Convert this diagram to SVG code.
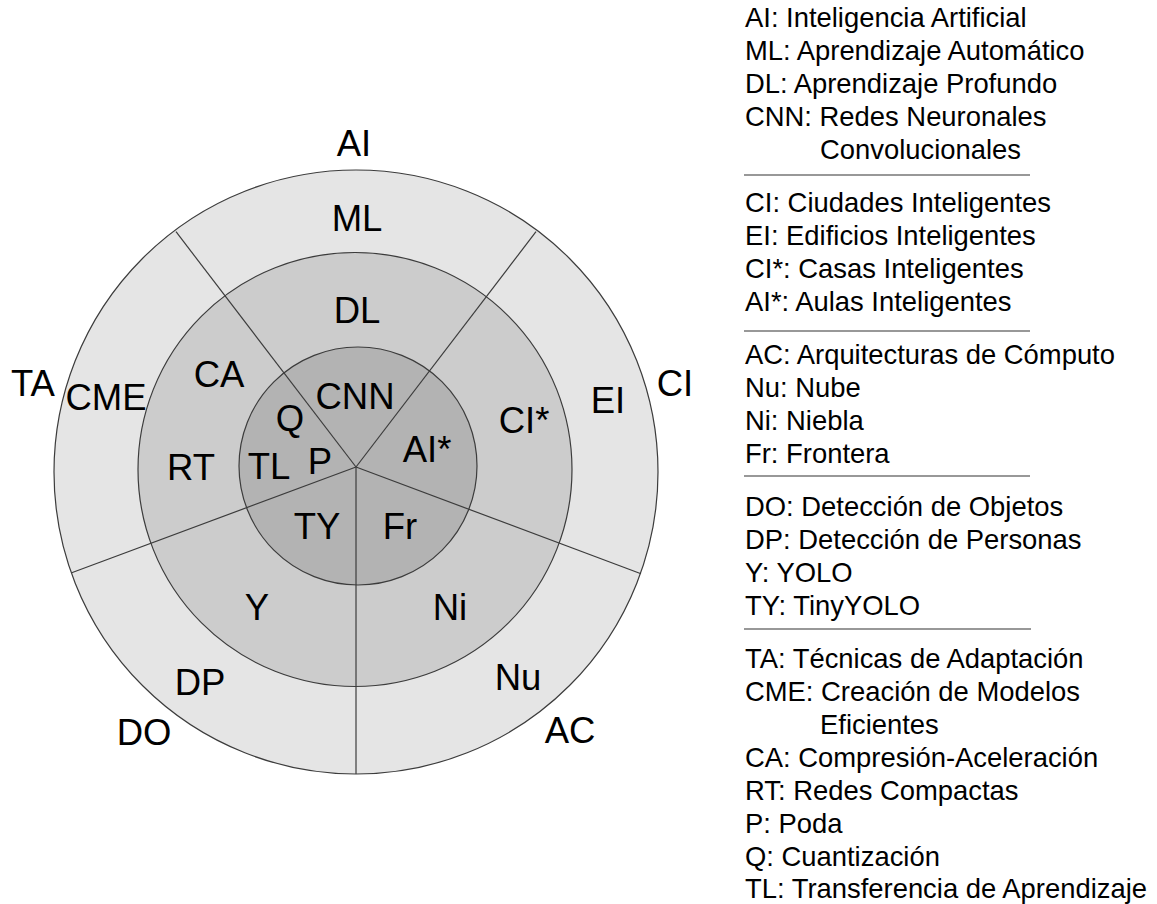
<svg xmlns="http://www.w3.org/2000/svg" width="1157" height="904" viewBox="0 0 1157 904">
  <style>
    .ring { stroke: #3c3c3c; stroke-width: 1.2; }
    .outer { fill: #e5e5e5; }
    .middle { fill: #cccccc; }
    .inner { fill: #b3b3b3; }
    .spoke { stroke: #3c3c3c; stroke-width: 1.2; fill: none; }
    .lbl { font-family: "Liberation Sans", Arial, sans-serif; font-size: 36.5px; fill: #000; text-anchor: middle; }
    .leg { font-family: "Liberation Sans", Arial, sans-serif; font-size: 27.4px; fill: #000; }
    .sep { stroke: #333333; stroke-width: 1.2; }
  </style>
  <rect width="1157" height="904" fill="#ffffff"/>

  <!-- concentric rings -->
  <g id="rings">
    <circle id="ring-outer" class="ring outer" cx="356" cy="472" r="302"/>
    <circle id="ring-middle" class="ring middle" cx="355" cy="469.5" r="217"/>
    <circle id="ring-inner" class="ring inner" cx="358" cy="466" r="119"/>
  </g>

  <!-- radial dividers between the five sectors -->
  <g id="connectors">
    <line class="spoke" x1="356" y1="467" x2="176" y2="231.7"/>
    <line class="spoke" x1="356" y1="467" x2="536" y2="231.7"/>
    <line class="spoke" x1="356" y1="467" x2="71.7" y2="572.7"/>
    <line class="spoke" x1="356" y1="467" x2="641" y2="573.7"/>
    <line class="spoke" x1="356" y1="467" x2="356" y2="774"/>
  </g>

  <!-- sector: AI -->
  <g id="sector-ai">
    <text class="lbl" x="354" y="156">AI</text>
    <text class="lbl" x="357" y="231">ML</text>
    <text class="lbl" x="357" y="323">DL</text>
    <text class="lbl" x="355" y="409">CNN</text>
  </g>

  <!-- sector: CI -->
  <g id="sector-ci">
    <text class="lbl" x="675" y="396">CI</text>
    <text class="lbl" x="608" y="413">EI</text>
    <text class="lbl" x="524" y="433">CI*</text>
    <text class="lbl" x="427" y="462">AI*</text>
  </g>

  <!-- sector: AC -->
  <g id="sector-ac">
    <text class="lbl" x="570" y="743">AC</text>
    <text class="lbl" x="518" y="690">Nu</text>
    <text class="lbl" x="450" y="620">Ni</text>
    <text class="lbl" x="400" y="539">Fr</text>
  </g>

  <!-- sector: DO -->
  <g id="sector-do">
    <text class="lbl" x="144" y="745">DO</text>
    <text class="lbl" x="200" y="695">DP</text>
    <text class="lbl" x="257" y="620">Y</text>
    <text class="lbl" x="317" y="539">TY</text>
  </g>

  <!-- sector: TA -->
  <g id="sector-ta">
    <text class="lbl" x="33" y="396">TA</text>
    <text class="lbl" x="106" y="410">CME</text>
    <text class="lbl" x="219" y="387">CA</text>
    <text class="lbl" x="191" y="480">RT</text>
    <text class="lbl" x="290" y="431">Q</text>
    <text class="lbl" x="269" y="479">TL</text>
    <text class="lbl" x="320" y="474">P</text>
  </g>

  <!-- glossary -->
  <g id="legend">
    <g id="legend-ai">
      <text class="leg" x="745" y="27">AI: Inteligencia Artificial</text>
      <text class="leg" x="745" y="60">ML: Aprendizaje Automático</text>
      <text class="leg" x="745" y="93">DL: Aprendizaje Profundo</text>
      <text class="leg" x="745" y="126">CNN: Redes Neuronales</text>
      <text class="leg" x="820" y="159">Convolucionales</text>
    </g>
    <line class="sep" x1="744" y1="175" x2="1030" y2="175"/>
    <g id="legend-ci">
      <text class="leg" x="745" y="212">CI: Ciudades Inteligentes</text>
      <text class="leg" x="745" y="245">EI: Edificios Inteligentes</text>
      <text class="leg" x="745" y="278">CI*: Casas Inteligentes</text>
      <text class="leg" x="745" y="311">AI*: Aulas Inteligentes</text>
    </g>
    <line class="sep" x1="744" y1="331" x2="1030" y2="331"/>
    <g id="legend-ac">
      <text class="leg" x="745" y="364">AC: Arquitecturas de Cómputo</text>
      <text class="leg" x="745" y="397">Nu: Nube</text>
      <text class="leg" x="745" y="430">Ni: Niebla</text>
      <text class="leg" x="745" y="463">Fr: Frontera</text>
    </g>
    <line class="sep" x1="744" y1="476" x2="1030" y2="476"/>
    <g id="legend-do">
      <text class="leg" x="745" y="516">DO: Detección de Objetos</text>
      <text class="leg" x="745" y="549">DP: Detección de Personas</text>
      <text class="leg" x="745" y="582">Y: YOLO</text>
      <text class="leg" x="745" y="615">TY: TinyYOLO</text>
    </g>
    <line class="sep" x1="744" y1="629" x2="1031" y2="629"/>
    <g id="legend-ta">
      <text class="leg" x="745" y="668">TA: Técnicas de Adaptación</text>
      <text class="leg" x="745" y="701">CME: Creación de Modelos</text>
      <text class="leg" x="820" y="734">Eficientes</text>
      <text class="leg" x="745" y="767">CA: Compresión-Aceleración</text>
      <text class="leg" x="745" y="800">RT: Redes Compactas</text>
      <text class="leg" x="745" y="833">P: Poda</text>
      <text class="leg" x="745" y="866">Q: Cuantización</text>
      <text class="leg" x="745" y="898">TL: Transferencia de Aprendizaje</text>
    </g>
  </g>
</svg>
